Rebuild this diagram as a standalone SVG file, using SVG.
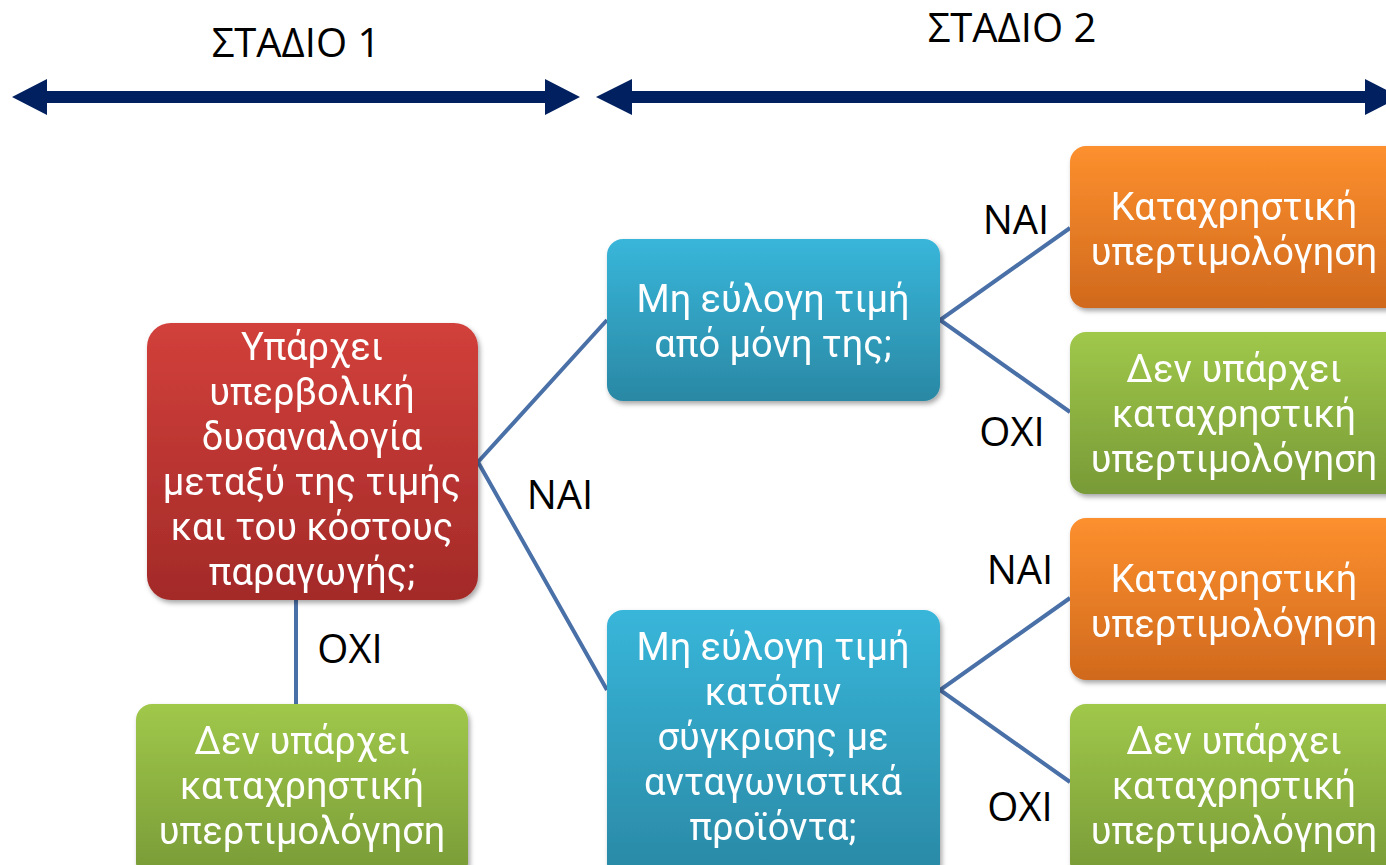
<svg xmlns="http://www.w3.org/2000/svg" width="1386" height="865" viewBox="0 0 1386 865">
<style>
.t{font-family:Roboto,"Open Sans","Noto Sans",sans-serif;font-size:38px;fill:#ffffff;text-anchor:middle}
.l{font-family:"Open Sans","Noto Sans","DejaVu Sans",sans-serif;font-size:40px;fill:#000000;text-anchor:middle}
.c{stroke:#4a70a8;stroke-width:4;fill:none}
.bx{filter:url(#sh)}
</style>
<defs>
<linearGradient id="gr" x1="0" y1="0" x2="0" y2="1"><stop offset="0" stop-color="#d2403b"/><stop offset="1" stop-color="#a32a28"/></linearGradient>
<linearGradient id="gb" x1="0" y1="0" x2="0" y2="1"><stop offset="0" stop-color="#38b6da"/><stop offset="1" stop-color="#2a88a4"/></linearGradient>
<linearGradient id="go" x1="0" y1="0" x2="0" y2="1"><stop offset="0" stop-color="#fd902e"/><stop offset="1" stop-color="#d0691d"/></linearGradient>
<linearGradient id="gg" x1="0" y1="0" x2="0" y2="1"><stop offset="0" stop-color="#a0c84a"/><stop offset="1" stop-color="#789a37"/></linearGradient>
<filter id="sh" x="-10%" y="-10%" width="130%" height="130%"><feDropShadow dx="2" dy="3" stdDeviation="2.5" flood-color="#000" flood-opacity="0.35"/></filter>
</defs>
<rect width="1386" height="865" fill="#ffffff"/>
<g id="stage-labels">
<text class="l" x="296" y="57">ΣΤΑΔΙΟ 1</text>
<text class="l" x="1012" y="42">ΣΤΑΔΙΟ 2</text>
</g>
<g id="stage-arrows" fill="#002060">
<polygon points="12,97 47,79 47,91 545,91 545,79 580,97 545,115 545,103 47,103 47,115"/>
<polygon points="596,97 632,79 632,91 1365,91 1365,79 1400,97 1365,115 1365,103 632,103 632,115"/>
</g>
<g id="connectors">
<polyline class="c" points="607,320 478,462 607,690"/>
<line class="c" x1="296" y1="600" x2="296" y2="705"/>
<polyline class="c" points="1070,228 940,320 1070,412"/>
<polyline class="c" points="1070,598 940,690 1070,782"/>
<text class="l" x="560" y="509">NAI</text>
<text class="l" x="350" y="663">OXI</text>
<text class="l" x="1016" y="234">NAI</text>
<text class="l" x="1012" y="446">OXI</text>
<text class="l" x="1020" y="584">NAI</text>
<text class="l" x="1020" y="821">OXI</text>
</g>
<g id="n-question" class="bx">
<rect x="147" y="323" width="331" height="277" rx="24" fill="url(#gr)"/>
<text class="t" x="312" y="360">Υπάρχει<tspan x="312" dy="45">υπερβολική</tspan><tspan x="312" dy="45">δυσαναλογία</tspan><tspan x="312" dy="45">μεταξύ της τιμής</tspan><tspan x="312" dy="45">και του κόστους</tspan><tspan x="312" dy="45">παραγωγής;</tspan></text>
</g>
<g id="n-no1" class="bx">
<rect x="136" y="704" width="332" height="175" rx="16" fill="url(#gg)"/>
<text class="t" x="302" y="754">Δεν υπάρχει<tspan x="302" dy="45">καταχρηστική</tspan><tspan x="302" dy="45">υπερτιμολόγηση</tspan></text>
</g>
<g id="n-alone" class="bx">
<rect x="607" y="239" width="333" height="162" rx="16" fill="url(#gb)"/>
<text class="t" x="773" y="312">Μη εύλογη τιμή<tspan x="773" dy="45">από μόνη της;</tspan></text>
</g>
<g id="n-compare" class="bx">
<rect x="607" y="610" width="333" height="270" rx="16" fill="url(#gb)"/>
<text class="t" x="773" y="660">Μη εύλογη τιμή<tspan x="773" dy="45">κατόπιν</tspan><tspan x="773" dy="45">σύγκρισης με</tspan><tspan x="773" dy="45">ανταγωνιστικά</tspan><tspan x="773" dy="45">προϊόντα;</tspan></text>
</g>
<g id="n-abuse1" class="bx">
<rect x="1070" y="146" width="340" height="162" rx="16" fill="url(#go)"/>
<text class="t" x="1234" y="220">Καταχρηστική<tspan x="1234" dy="45">υπερτιμολόγηση</tspan></text>
</g>
<g id="n-noabuse1" class="bx">
<rect x="1070" y="332" width="340" height="162" rx="16" fill="url(#gg)"/>
<text class="t" x="1234" y="382">Δεν υπάρχει<tspan x="1234" dy="45">καταχρηστική</tspan><tspan x="1234" dy="45">υπερτιμολόγηση</tspan></text>
</g>
<g id="n-abuse2" class="bx">
<rect x="1070" y="518" width="340" height="162" rx="16" fill="url(#go)"/>
<text class="t" x="1234" y="592">Καταχρηστική<tspan x="1234" dy="45">υπερτιμολόγηση</tspan></text>
</g>
<g id="n-noabuse2" class="bx">
<rect x="1070" y="704" width="340" height="175" rx="16" fill="url(#gg)"/>
<text class="t" x="1234" y="754">Δεν υπάρχει<tspan x="1234" dy="45">καταχρηστική</tspan><tspan x="1234" dy="45">υπερτιμολόγηση</tspan></text>
</g>
</svg>
